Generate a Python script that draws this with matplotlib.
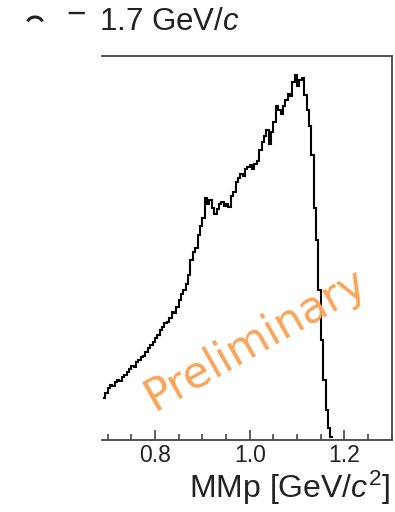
import numpy as np
import matplotlib
matplotlib.use("Agg")
import matplotlib.pyplot as plt
from matplotlib.patches import Arc

plt.rcParams['font.family'] = ['Liberation Sans', 'DejaVu Sans']
plt.rcParams['mathtext.fontset'] = 'custom'
plt.rcParams['mathtext.rm'] = 'Liberation Sans'
plt.rcParams['mathtext.it'] = 'Liberation Sans:italic'

# Missing-mass histogram, bin width 0.005 GeV/c^2
bin_start = 0.690
bin_width = 0.005
counts = [
    42, 47, 52, 55, 54, 58, 60, 59, 63, 65,
    68, 71, 74, 73, 78, 80, 83, 84, 88, 92,
    95, 98, 102, 105, 110, 113, 117, 118, 122, 128,
    127, 133, 140, 146, 150, 156, 165, 180, 188, 192,
    205, 214, 222, 242, 236, 240, 232, 226, 231, 236,
    238, 234, 236, 233, 244, 248, 258, 262, 266, 264,
    271, 273, 275, 271, 276, 279, 290, 298, 304, 310,
    296, 308, 318, 334, 330, 326, 334, 340, 346, 344,
    358, 365, 354, 360, 362, 345, 330, 314, 285, 232,
    200, 150, 100, 60, 30, 12, 3,
]
xticks_major = [0.8, 1.0, 1.2]
xtick_labels = ["0.8", "1.0", "1.2"]

edges = bin_start + bin_width * np.arange(len(counts) + 1)

fig = plt.figure(figsize=(3.95, 5.12), dpi=100)
ax = fig.add_axes([0.258, 0.1406, 0.734, 0.75])

ax.stairs(counts, edges, baseline=None, color='black', linewidth=1.5)

ax.set_xlim(0.688, 1.300)
ax.set_ylim(0, 384)

frame_col = '#444444'
for side in ['top', 'right', 'bottom']:
    ax.spines[side].set_color(frame_col)
    ax.spines[side].set_linewidth(1.3)
ax.spines['left'].set_visible(False)

ax.set_xticks(xticks_major)
ax.set_xticklabels(xtick_labels)
ax.set_xticks(np.arange(0.70, 1.31, 0.05), minor=True)
ax.set_yticks([])
ax.tick_params(axis='x', which='major', direction='in', length=7.5, width=1.2,
               color=frame_col, labelsize=16.5, pad=3, labelcolor='#222222')
ax.tick_params(axis='x', which='minor', direction='in', length=4.5, width=1.2,
               color=frame_col)

fig.text(390 / 395, 1 - 498 / 512, r"MMp [GeV/$c^2$]", ha='right', va='baseline',
         fontsize=23, color='#222222')

# header: beam momentum
fig.text(99 / 395, 1 - 30 / 512, r"1.7 GeV/$c$", ha='left', va='baseline',
         fontsize=22.5, color='#222222')
fig.text(66 / 395, 1 - 15 / 512, "\u2212", ha='left', va='center',
         fontsize=24, color='#222222')
fig.patches.append(Arc((35 / 395, 1 - 24 / 512), 16 / 395, 14 / 512,
                       theta1=15, theta2=165, transform=fig.transFigure,
                       color='#222222', linewidth=2.2))

fig.text(262 / 395, 1 - 350 / 512, "Preliminary", rotation=29.5,
         rotation_mode='anchor', ha='center', va='baseline',
         fontsize=31.5, color='#f9a55a', family='DejaVu Sans')

fig.savefig("out.png", dpi=100)
